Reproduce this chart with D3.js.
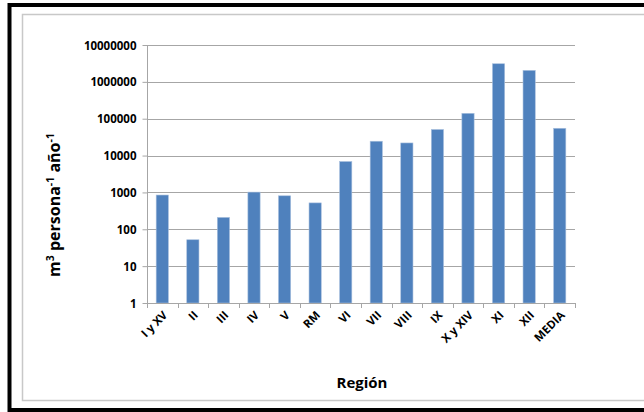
<!DOCTYPE html>
<html>
<head>
<meta charset="utf-8">
<script src="https://cdn.jsdelivr.net/npm/d3@7"></script>
<style>
  body { margin: 0; background: #fff; overflow: hidden; }
  svg { display: block; }
  text { font-family: "Open Sans", "DejaVu Sans", sans-serif; font-weight: bold; fill: #000; }
</style>
</head>
<body>
<svg id="chart" width="644" height="412"></svg>
<script>
// Regions and water availability (log scale)
var regions = ["I y XV", "II", "III", "IV", "V", "RM", "VI", "VII", "VIII", "IX", "X y XIV", "XI", "XII", "MEDIA"];
var values = [850, 52, 210, 1020, 810, 520, 6900, 24500, 22000, 51000, 140000, 3100000, 2050000, 55000];
var yTicks = [1, 10, 100, 1000, 10000, 100000, 1000000, 10000000];

var svg = d3.select("#chart");

// outer frame
svg.append("rect")
    .attr("x", 9.5).attr("y", 5)
    .attr("width", 660).attr("height", 405)
    .style("fill", "none")
    .style("stroke", "#000")
    .style("stroke-width", 4);
svg.append("rect")
    .attr("x", 22.5).attr("y", 14.5)
    .attr("width", 640).attr("height", 386)
    .style("fill", "none")
    .style("stroke", "#c8c8c8")
    .style("stroke-width", 1.5);

var plotLeft = 147, plotRight = 575, plotTop = 45, plotBottom = 303;

var x = d3.scaleBand()
    .domain(regions)
    .range([plotLeft, plotRight])
    .paddingInner(0.6)
    .paddingOuter(0.3);

var y = d3.scaleLog()
    .domain([1, 10000000])
    .range([plotBottom, plotTop]);

// gridlines
svg.append("g")
    .selectAll("line")
    .data(yTicks.slice(1))
    .enter().append("line")
    .attr("x1", plotLeft).attr("x2", plotRight)
    .attr("y1", function (d) { return Math.round(y(d)) + 0.5; })
    .attr("y2", function (d) { return Math.round(y(d)) + 0.5; })
    .style("stroke", "#a6a6a6")
    .style("stroke-width", 1);

// bars
svg.append("g")
    .selectAll("rect")
    .data(values)
    .enter().append("rect")
    .attr("x", function (d, i) { return x(regions[i]); })
    .attr("y", function (d) { return y(d); })
    .attr("width", x.bandwidth())
    .attr("height", function (d) { return plotBottom - y(d); })
    .style("fill", "#4f81bd")
    .style("stroke", "#a9c0de")
    .style("stroke-width", 0.6);

// y axis
var yAxis = svg.append("g")
    .attr("transform", "translate(" + (plotLeft + 0.5) + ",0)")
    .call(d3.axisLeft(y).tickValues(yTicks).tickFormat(d3.format("d")).tickSize(5).tickPadding(6));
yAxis.select(".domain").style("stroke", "#a6a6a6").attr("d", "M0," + plotTop + "V" + plotBottom);
yAxis.selectAll(".tick line").style("stroke", "#a6a6a6");
yAxis.selectAll(".tick text")
    .style("font-size", "11.5px")
    .style("font-family", "'Open Sans', sans-serif")
    .style("font-weight", "bold")
    .attr("dy", "0.35em");

// x axis with ticks at band boundaries
var step = x.step();
var edges = d3.range(regions.length + 1).map(function (i) { return plotLeft + i * step; });
svg.append("line")
    .attr("x1", plotLeft).attr("x2", plotRight)
    .attr("y1", plotBottom + 0.5).attr("y2", plotBottom + 0.5)
    .style("stroke", "#a6a6a6");
svg.append("g")
    .selectAll("line")
    .data(edges)
    .enter().append("line")
    .attr("x1", function (d) { return Math.round(d) + 0.5; })
    .attr("x2", function (d) { return Math.round(d) + 0.5; })
    .attr("y1", plotBottom).attr("y2", plotBottom + 5)
    .style("stroke", "#a6a6a6");

svg.append("g")
    .selectAll("text")
    .data(regions)
    .enter().append("text")
    .attr("transform", function (d) {
        return "translate(" + (x(d) + x.bandwidth() / 2 + 3) + "," + (plotBottom + 10) + ") rotate(-45)";
    })
    .attr("text-anchor", "end")
    .attr("dy", "0.35em")
    .style("font-size", "11.5px")
    .text(function (d) { return d; });

// axis titles
svg.append("text")
    .attr("x", 362).attr("y", 388)
    .attr("text-anchor", "middle")
    .style("font-size", "15px")
    .text("Región");

var yt = svg.append("text")
    .attr("transform", "translate(60,205) rotate(-90)")
    .attr("text-anchor", "middle")
    .style("font-size", "16px");
yt.append("tspan").text("m");
yt.append("tspan").attr("dy", "-6").style("font-size", "10.5px").text("3");
yt.append("tspan").attr("dy", "6").text(" persona");
yt.append("tspan").attr("dy", "-6").style("font-size", "10.5px").text("-1");
yt.append("tspan").attr("dy", "6").text(" año");
yt.append("tspan").attr("dy", "-6").style("font-size", "10.5px").text("-1");
</script>
</body>
</html>
